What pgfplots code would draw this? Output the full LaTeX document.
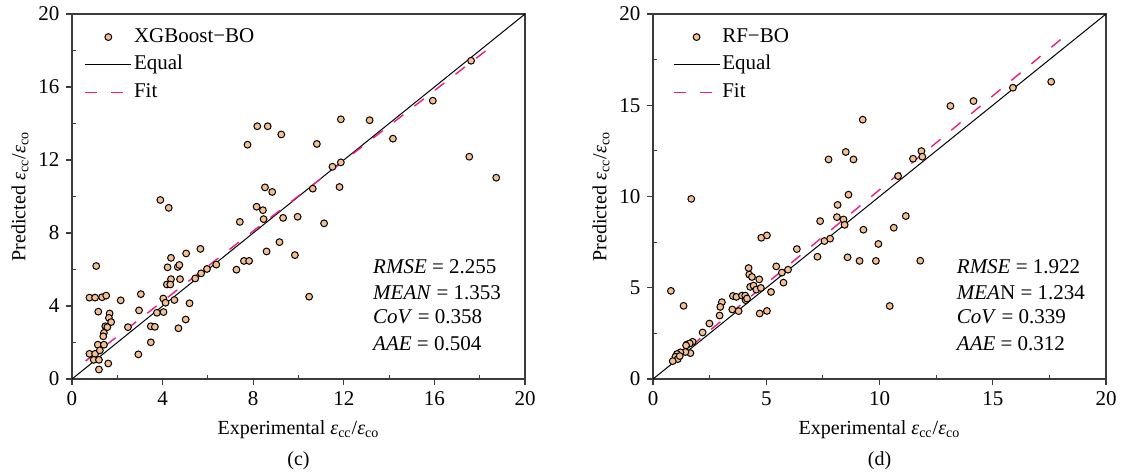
\documentclass[border=0pt]{standalone}
\usepackage{fontspec}
\setmainfont{Liberation Serif}
\usepackage{pgfplots}
\pgfplotsset{compat=1.18}
\definecolor{ptfill}{RGB}{246,192,142}
\definecolor{fitc}{RGB}{232,30,130}
\definecolor{axc}{RGB}{60,60,60}
\newcommand{\epsl}{{\itshape ε}}
\tikzset{stat/.style={anchor=base west, inner sep=0pt, font=\fontsize{10.5}{12}\selectfont}}
\pgfplotsset{
  myax/.style={
    scale only axis, width=226.5pt, height=182.5pt,
    xmin=0, xmax=20, ymin=0, ymax=20,
    axis line style={axc, line width=1pt},
    tick align=outside, xtick pos=bottom, ytick pos=left,
    major tick length=2.8pt, minor tick length=-2pt,
    tick style={axc, line width=0.6pt},
    minor x tick num=1, minor y tick num=1,
    /pgf/number format/assume math mode=true,
    tick label style={font=\fontsize{10.5}{12}\selectfont},
    label style={font=\fontsize{10}{12}\selectfont},
    xlabel={Experimental \epsl\textsubscript{cc}/\epsl\textsubscript{co}},
    ylabel={Predicted \epsl\textsubscript{cc}/\epsl\textsubscript{co}},
    xlabel style={at={(axis description cs:0.5,-0.14)}, anchor=center},
    ylabel style={at={(axis description cs:-0.115,0.5)}, anchor=center},
    clip=false,
    legend cell align=left,
    legend style={draw=none, fill=none, inner sep=0pt, row sep=2.8pt,
      font=\fontsize{10.5}{12}\selectfont,
      nodes={inner sep=1pt, text height=7pt, text depth=2pt}},
  },
  pts/.style={only marks, mark=*, mark size=1.7pt,
    mark options={fill=ptfill, draw=black, line width=0.5pt},
    legend image code/.code={\draw[mark repeat=2,mark phase=2,##1] plot coordinates {(0pt,0pt)(11.5pt,0pt)(23pt,0pt)};}},
  eqline/.style={black, line width=0.5pt,
    legend image code/.code={\draw[##1] (0pt,0pt) -- (23pt,0pt);}},
  fitline/.style={fitc, line width=0.7pt, dash pattern=on 6pt off 7pt,
    legend image code/.code={\draw[##1] (0pt,0pt) -- (23pt,0pt);}},
}

\pgfplotstableread{
x y
8.52 10.50
8.84 10.25
3.90 9.81
4.27 9.38
8.15 9.44
8.43 9.25
8.46 8.76
7.41 8.61
9.32 8.83
9.16 7.50
8.59 6.99
5.67 7.13
5.04 6.88
4.37 6.64
1.07 6.19
4.22 6.12
4.67 6.14
4.74 6.25
5.96 6.03
6.37 6.27
7.26 5.99
7.59 6.47
7.82 6.47
4.37 5.47
4.77 5.47
4.19 5.18
4.34 5.18
5.44 5.51
5.70 5.79
0.77 4.46
1.02 4.46
1.33 4.48
1.51 4.57
2.15 4.31
3.04 4.65
4.03 4.41
4.13 4.18
4.52 4.33
5.19 4.15
1.16 3.69
1.66 3.59
1.63 3.35
1.73 3.12
2.96 3.76
3.75 3.63
4.04 3.67
1.47 2.89
1.56 2.84
2.47 2.84
3.48 2.89
3.66 2.86
5.02 3.26
4.70 2.78
1.41 2.53
1.38 2.34
1.14 1.88
1.41 1.88
3.48 2.01
0.77 1.38
1.02 1.38
1.23 1.57
2.93 1.35
0.96 1.05
1.19 1.05
1.60 0.85
1.19 0.52
7.75 12.84
8.18 13.85
8.64 13.85
9.24 13.40
10.81 12.88
11.87 14.23
13.14 14.18
15.93 15.25
17.62 17.44
14.17 13.17
11.50 11.63
11.87 11.87
10.63 10.43
11.81 10.52
17.54 12.18
18.73 11.03
9.96 8.89
11.13 8.53
9.84 6.79
10.47 4.51
}\xgbdata

\pgfplotstableread{
x y
1.69 9.87
8.63 10.10
8.15 9.54
8.12 8.87
8.41 8.74
8.46 8.45
7.38 8.65
9.29 8.18
9.95 7.40
4.78 7.74
5.03 7.87
7.57 7.56
7.82 7.69
6.35 7.12
7.26 6.70
8.59 6.67
9.12 6.47
9.84 6.47
5.44 6.17
5.96 5.99
5.69 5.83
5.76 5.28
4.22 6.08
4.25 5.72
4.37 5.59
4.69 5.46
4.29 5.05
4.44 5.12
4.56 4.90
4.76 4.99
5.21 4.77
0.79 4.83
1.35 4.01
3.04 4.21
2.97 3.95
2.94 3.48
3.53 4.55
3.68 4.50
3.50 3.81
3.78 3.72
3.93 4.57
4.07 4.57
4.09 4.32
4.15 4.41
4.71 3.59
5.03 3.73
2.49 3.04
2.19 2.55
1.75 2.04
1.50 1.89
1.62 1.95
1.46 1.84
1.65 1.42
1.43 1.48
1.21 1.46
1.06 1.37
0.99 1.22
1.09 1.09
0.87 0.98
1.18 1.26
9.26 14.21
7.75 12.03
8.51 12.44
8.85 12.03
10.82 11.12
11.48 12.07
11.85 12.49
11.89 12.18
13.13 14.96
14.15 15.23
15.89 15.96
17.58 16.29
11.16 8.93
10.63 8.29
11.80 6.48
10.45 4.00
}\rfdata

\begin{document}
\begin{tikzpicture}
\path[use as bounding box] (0,0) rectangle (562pt,236.5pt);
\begin{axis}[myax, at={(36pt,47pt)}, anchor=south west,
  xtick={0,4,...,20}, ytick={0,4,...,20},
  legend style={at={(axis description cs:0.027,0.968)}, anchor=north west}]
\addplot[pts] table[x=x,y=y] {\xgbdata};
\addlegendentry{XGBoost−BO}
\addplot[eqline] coordinates {(0,0) (20,20)};
\addlegendentry{Equal}
\addplot[fitline] coordinates {(0.6,0.987) (18.4,18.11)};
\addlegendentry{Fit}
\node[stat] at (rel axis cs:0.664,0.290) {\textit{RMSE} = 2.255};
\node[stat] at (rel axis cs:0.664,0.219) {\textit{MEAN} = 1.353};
\node[stat] at (rel axis cs:0.664,0.151) {\textit{CoV} = 0.358};
\node[stat] at (rel axis cs:0.664,0.079) {\textit{AAE} = 0.504};
\node[font=\fontsize{10}{12}\selectfont] at (rel axis cs:0.5,-0.225) {(c)};
\end{axis}
\begin{axis}[myax, at={(326.5pt,47pt)}, anchor=south west,
  xtick={0,5,...,20}, ytick={0,5,...,20},
  legend style={at={(axis description cs:0.043,0.968)}, anchor=north west}]
\addplot[pts] table[x=x,y=y] {\rfdata};
\addlegendentry{RF−BO}
\addplot[eqline] coordinates {(0,0) (20,20)};
\addlegendentry{Equal}
\addplot[fitline] coordinates {(0.8,0.90) (18.24,18.85)};
\addlegendentry{Fit}
\node[stat] at (rel axis cs:0.670,0.290) {\textit{RMSE} = 1.922};
\node[stat] at (rel axis cs:0.670,0.219) {\textit{MEA}N = 1.234};
\node[stat] at (rel axis cs:0.670,0.151) {\textit{CoV} = 0.339};
\node[stat] at (rel axis cs:0.670,0.079) {\textit{AAE} = 0.312};
\node[font=\fontsize{10}{12}\selectfont] at (rel axis cs:0.5,-0.225) {(d)};
\end{axis}
\end{tikzpicture}
\end{document}
